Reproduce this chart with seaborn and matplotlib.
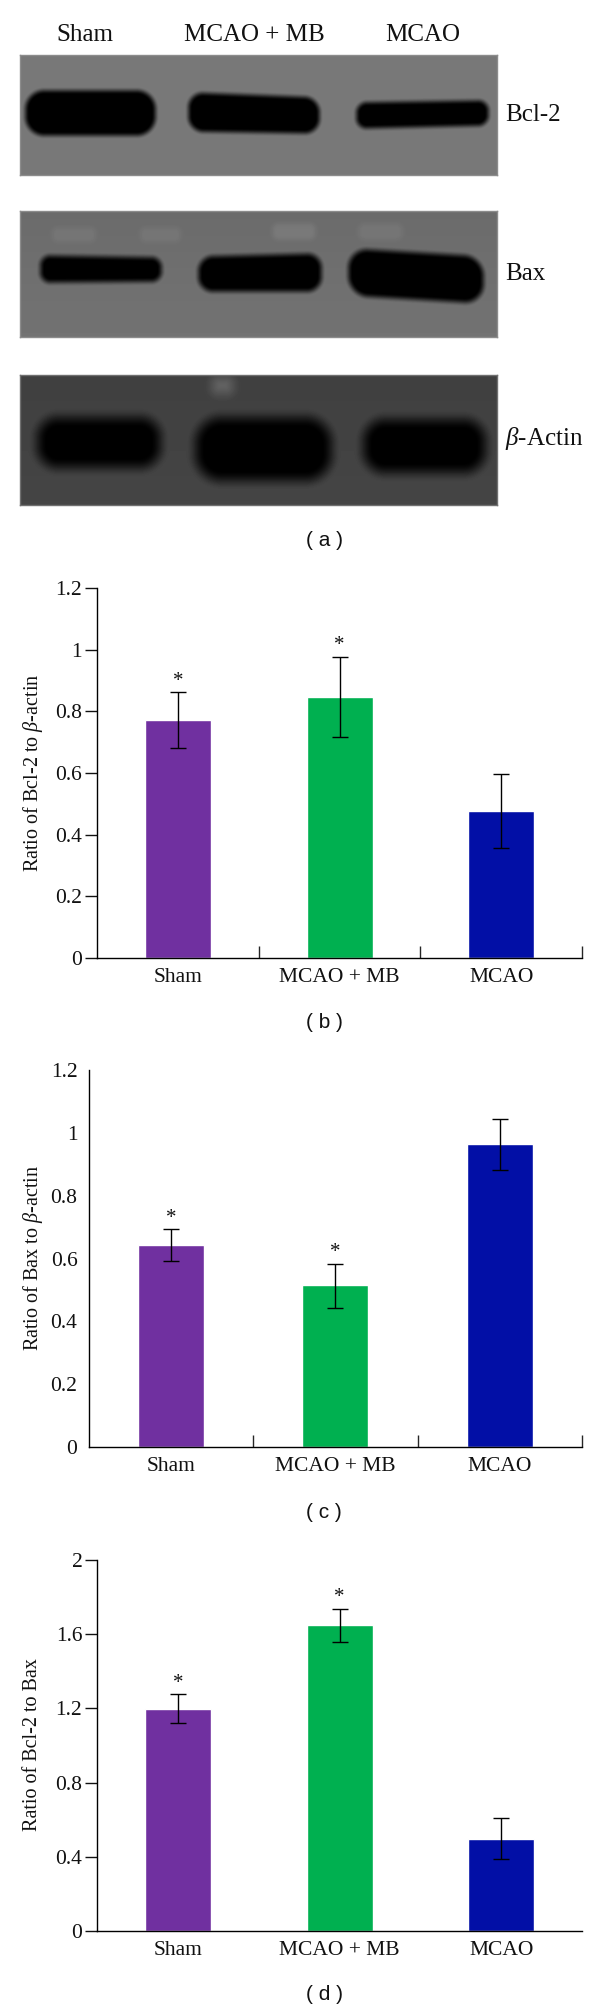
import numpy as np
import pandas as pd
import matplotlib
matplotlib.use("Agg")
import matplotlib.pyplot as plt
import seaborn as sns

sns.set_theme(style="white")
plt.rcParams["font.family"] = ["Liberation Serif", "DejaVu Serif"]
plt.rcParams["mathtext.fontset"] = "custom"
plt.rcParams["mathtext.it"] = "Liberation Serif:italic"
plt.rcParams["mathtext.rm"] = "Liberation Serif"

W, H = 600, 2011

# --------------------------
# Data
# --------------------------
groups = ["Sham", "MCAO + MB", "MCAO"]
colors = ["#7030A0", "#00B050", "#020FA6"]

bcl2_mean = [0.772, 0.847, 0.477]
bcl2_low = [0.682, 0.717, 0.357]
bcl2_high = [0.862, 0.977, 0.597]
bcl2_ticks = [0, 0.2, 0.4, 0.6, 0.8, 1, 1.2]

bax_mean = [0.643, 0.515, 0.963]
bax_low = [0.593, 0.443, 0.882]
bax_high = [0.694, 0.583, 1.045]
bax_ticks = [0, 0.2, 0.4, 0.6, 0.8, 1, 1.2]

ratio_mean = [1.197, 1.648, 0.495]
ratio_low = [1.120, 1.558, 0.386]
ratio_high = [1.278, 1.738, 0.607]
ratio_ticks = [0, 0.4, 0.8, 1.2, 1.6, 2]

# blot bands in blot pixels: left, right, top/bottom at the left end,
# top/bottom at the right end, darkness (negative = faint lighter band)
bcl2_bands = [(5, 135, 35, 80, 35, 80, 1), (168, 299, 37, 76, 42, 78, 1),
              (336, 468, 47, 73, 45, 70, 1)]
bax_bands = [(20, 141, 44, 71, 46, 70, 1), (178, 301, 45, 80, 42, 80, 1),
             (328, 463, 37, 84, 45, 92, 1),
             (32, 75, 16, 30, 16, 30, -0.1), (120, 160, 16, 30, 16, 30, -0.1),
             (252, 295, 12, 28, 12, 28, -0.14), (338, 382, 12, 28, 12, 28, -0.1)]
actin_bands = [(17, 140, 42, 92, 42, 92, 1), (175, 311, 42, 105, 42, 105, 1),
               (343, 465, 44, 97, 44, 97, 1), (192, 212, 2, 18, 2, 18, -0.3)]


def px_axes(left, right, top, bottom):
    return fig.add_axes([left / W, 1 - bottom / H, (right - left) / W, (bottom - top) / H])


def band_image(w, h, bands, bg_top, bg_bottom, soft):
    yy, xx = np.mgrid[0:h, 0:w]
    img = np.linspace(bg_top, bg_bottom, h)[:, None] * np.ones((h, w))
    for left, right, t0, b0, t1, b1, dark in bands:
        f = np.clip((xx - left) / (right - left), 0, 1)
        top = t0 + (t1 - t0) * f
        bottom = b0 + (b1 - b0) * f
        r = min(right - left, min(b0 - t0, b1 - t1)) * 0.42
        qx = np.abs(xx - (left + right) / 2) - ((right - left) / 2 - r)
        qy = np.abs(yy - (top + bottom) / 2) - ((bottom - top) / 2 - r)
        d = np.hypot(np.maximum(qx, 0), np.maximum(qy, 0)) + np.minimum(np.maximum(qx, qy), 0) - r
        mix = np.clip(0.5 - d / soft, 0, 1)
        mix = mix * mix * (3 - 2 * mix)
        if dark > 0:
            img = img * (1 - mix)
        else:
            img = img + (-dark) * 0.6 * mix * (1 - img)
    return img


def draw_blot(top, bottom, bands, bg_top, bg_bottom, soft, edge):
    ax = px_axes(20, 497, top, bottom)
    img = band_image(477, bottom - top, bands, bg_top, bg_bottom, soft)
    ax.imshow(img, cmap="gray", vmin=0, vmax=1, aspect="auto", interpolation="bilinear")
    ax.set_xticks([])
    ax.set_yticks([])
    for s in ax.spines.values():
        s.set_color(edge)
        s.set_linewidth(1)


fig = plt.figure(figsize=(W / 100, H / 100), dpi=100, facecolor="white")

draw_blot(55, 175, bcl2_bands, 0.47, 0.47, 8, "#8c8c8c")
draw_blot(211, 337, bax_bands, 0.42, 0.45, 9, "#8c8c8c")
draw_blot(375, 505, actin_bands, 0.25, 0.27, 20, "#707070")

for name, x in zip(groups, [85, 254, 423]):
    fig.text(x / W, 1 - 35 / H, name, ha="center", va="center", fontsize=18, color="#111111")
for name, y in zip(["Bcl-2", "Bax", r"$\beta$-Actin"], [115, 274, 439]):
    fig.text(505 / W, 1 - y / H, name, ha="left", va="center", fontsize=18, color="#111111")


def draw_panel(left, top, bottom, ymax, mean, low, high, ticks, ylabel, label_y, stars,
               left_ticks, sep_ticks, tag, tag_y):
    ax = px_axes(left, 582, top, bottom)
    df = pd.DataFrame({"group": groups, "value": mean})
    sns.barplot(data=df, x="group", y="value", hue="group", palette=colors, legend=False,
                width=66 / ((582 - left) / 3), saturation=1, ax=ax)
    ax.errorbar(range(3), mean,
                yerr=[np.array(mean) - np.array(low), np.array(high) - np.array(mean)],
                fmt="none", ecolor="black", elinewidth=1, capsize=5.5, capthick=1)
    for i in stars:
        ax.annotate("*", (i, high[i]), xytext=(0, 1), textcoords="offset points",
                    ha="center", va="bottom", fontsize=15, color="#111111")
    ax.set_xlim(-0.5, 2.5)
    ax.set_ylim(0, ymax)
    ax.set_yticks(ticks)
    ax.set_yticklabels([f"{t:g}" for t in ticks])
    ax.tick_params(axis="y", left=True, length=8.6 if left_ticks else 0, width=1,
                   labelsize=15.5, pad=2 if left_ticks else 8, colors="#111111")
    ax.tick_params(axis="x", bottom=False, labelsize=15.5, pad=1, colors="#111111")
    if sep_ticks:
        ax.set_xticks([0.5, 1.5, 2.5], minor=True)
        ax.tick_params(axis="x", which="minor", bottom=True, direction="in", length=8.6, width=1)
    ax.set_xlabel("")
    ax.set_ylabel(ylabel, fontsize=14.5, color="#111111", va="center")
    ax.yaxis.set_label_coords((33 - left) / (582 - left), (bottom - label_y) / (bottom - top))
    sns.despine(ax=ax)
    for s in ["left", "bottom"]:
        ax.spines[s].set_color("black")
        ax.spines[s].set_linewidth(1)
    fig.text(324 / W, 1 - tag_y / H, tag, ha="center", va="center", fontsize=15,
             family=["Liberation Sans", "DejaVu Sans"], color="#111111")


draw_panel(97, 588, 958, 1.2, bcl2_mean, bcl2_low, bcl2_high, bcl2_ticks,
           r"Ratio of Bcl-2 to $\beta$-actin", 773, [0, 1], True, True, "( b )", 1023)
draw_panel(88.5, 1070, 1447, 1.2, bax_mean, bax_low, bax_high, bax_ticks,
           r"Ratio of Bax to $\beta$-actin", 1258, [0, 1], False, True, "( c )", 1512)
draw_panel(97, 1560, 1931, 2, ratio_mean, ratio_low, ratio_high, ratio_ticks,
           "Ratio of Bcl-2 to Bax", 1745, [0, 1], True, False, "( d )", 1995)
fig.text(324 / W, 1 - 541 / H, "( a )", ha="center", va="center", fontsize=15,
         family=["Liberation Sans", "DejaVu Sans"], color="#111111")

plt.savefig("out.png", dpi=100)
